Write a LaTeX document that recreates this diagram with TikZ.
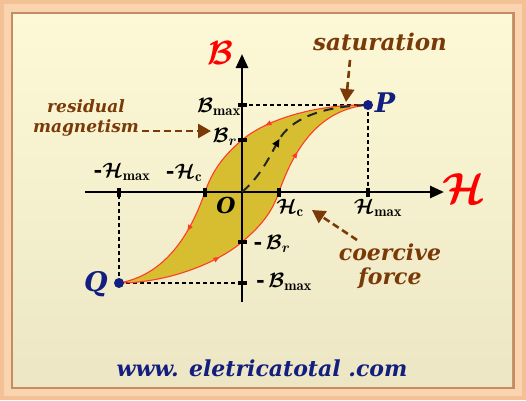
\documentclass[tikz,border=0pt]{standalone}
\usepackage{fontspec}
\usepackage{bm}
\newfontfamily\lab{DejaVu Serif}
\usetikzlibrary{arrows.meta,decorations.markings}
\definecolor{brn}{RGB}{122,58,8}
\definecolor{nav}{RGB}{18,30,128}
\definecolor{loopfill}{RGB}{214,190,48}
\definecolor{loopred}{RGB}{255,60,40}
\definecolor{peach}{RGB}{242,194,150}
\definecolor{peachlt}{RGB}{249,212,174}
\definecolor{paneltop}{RGB}{253,249,214}
\definecolor{panelbot}{RGB}{236,230,196}
\definecolor{bevel}{RGB}{196,140,100}
\newcommand{\fsBig}{\fontsize{24.88}{28}\selectfont}
\newcommand{\fsMath}{\fontsize{21}{24}\selectfont}
\newcommand{\fsSmall}{\lab\bfseries\itshape\fontsize{17}{20}\selectfont}
\newcommand{\fsMid}{\lab\bfseries\itshape\fontsize{22}{24}\selectfont}
\newcommand{\fsSat}{\lab\bfseries\itshape\fontsize{23}{26}\selectfont}
\newcommand{\fsPQ}{\lab\bfseries\itshape\fontsize{27}{30}\selectfont}
\begin{document}
\begin{tikzpicture}[x=1pt,y=-1pt,
  axis/.style={line width=2.6pt,-{Triangle[length=14pt,width=12pt]}},
  guide/.style={line width=1.3pt,dash pattern=on 4pt off 3pt},
  callout/.style={draw=brn,line width=2.6pt,dash pattern=on 7pt off 4pt,-{Triangle[length=13pt,width=14pt]}},
  lbltxt/.style={text=brn,font=\fsSmall,align=center,inner sep=0pt},
  bigtxt/.style={text=brn,font=\fsMid,align=center,inner sep=0pt},
  sattxt/.style={text=brn,font=\fsSat,inner sep=0pt},
  mlab/.style={font=\fsMath,inner sep=0pt},
  redlab/.style={text=red,font=\fsBig,inner sep=0pt},
  olab/.style={font=\fsMid,inner sep=0pt},
  webtxt/.style={text=nav,font=\fsMid,inner sep=0pt},
  pq/.style={text=nav,font=\fsPQ,inner sep=0pt},
  dot/.style={circle,fill=nav,minimum size=10pt,inner sep=0pt},
  tickh/.style={rectangle,fill=black,minimum width=9pt,minimum height=4pt,inner sep=0pt},
  tickv/.style={rectangle,fill=black,minimum width=4pt,minimum height=9pt,inner sep=0pt},
  branch/.style={draw=loopred,line width=1.1pt,postaction={decorate},
    decoration={markings,
      mark=at position 0.32 with {\arrow[loopred]{Triangle[length=6pt,width=5pt]}},
      mark=at position 0.73 with {\arrow[loopred]{Triangle[length=6pt,width=5pt]}}}},
  initc/.style={draw=black!85,line width=2pt,dash pattern=on 10pt off 7pt,postaction={decorate},
    decoration={markings,
      mark=at position 0.4 with {\arrow[black]{Triangle[length=8pt,width=7pt]}}}}
]
\useasboundingbox (0,0) rectangle (526,400);
% frame
\fill[peach] (0,0) rectangle (526,400);
\fill[peachlt] (4,4) rectangle (522,396);
\fill[bevel] (11,12) rectangle (515,389);
\shade[top color=paneltop,bottom color=panelbot] (13,14) rectangle (512,386);
% coordinates
\coordinate (O) at (242,192);
\coordinate (P) at (368,105);
\coordinate (Q) at (119,283);
\coordinate (brp) at (242,140);
\coordinate (brm) at (242,242);
\coordinate (hcm) at (205,192);
\coordinate (hcp) at (279,192);
\coordinate (bmaxp) at (242,105);
\coordinate (bmaxm) at (242,283);
\coordinate (hmaxp) at (368,192);
\coordinate (hmaxm) at (119,192);
\coordinate (xs) at (85,192);
\coordinate (xe) at (444,192);
\coordinate (ys) at (242,302);
\coordinate (ye) at (242,54);
\coordinate (imid) at (280,138);
% loop fill
\fill[loopfill] (P) .. controls (320,104) and (268,118) .. (brp)
  .. controls (222,157) and (212,172) .. (hcm)
  .. controls (190,235) and (165,275) .. (Q)
  .. controls (166,283) and (216,264) .. (brm)
  .. controls (262,225) and (272,212) .. (hcp)
  .. controls (294,149) and (319,109) .. (P) -- cycle;
% guides
\draw[guide] (bmaxp) -- (P);
\draw[guide] (P) -- (hmaxp);
\draw[guide] (Q) -- (bmaxm);
\draw[guide] (Q) -- (hmaxm);
% axes
\draw[axis] (xs) -- (xe);
\draw[axis] (ys) -- (ye);
% branches
\draw[branch] (P) .. controls (320,104) and (268,118) .. (brp)
  .. controls (222,157) and (212,172) .. (hcm)
  .. controls (190,235) and (165,275) .. (Q);
\draw[branch] (Q) .. controls (166,283) and (216,264) .. (brm)
  .. controls (262,225) and (272,212) .. (hcp)
  .. controls (294,149) and (319,109) .. (P);
% initial curve
\draw[initc] (O) .. controls (262,175) and (270,155) .. (imid)
  .. controls (295,115) and (330,106) .. (P);
% ticks
\node[tickh] (t1) at (bmaxp) {};
\node[tickh] (t2) at (brp) {};
\node[tickh] (t3) at (brm) {};
\node[tickh] (t4) at (bmaxm) {};
\node[tickv] (t5) at (hmaxm) {};
\node[tickv] (t6) at (hcm) {};
\node[tickv] (t7) at (hcp) {};
\node[tickv] (t8) at (hmaxp) {};
% dots
\node[dot] (Pd) at (P) {};
\node[dot] (Qd) at (Q) {};
\node[pq] (Pl) at (385,103) {P};
\node[pq] (Ql) at (96,284) {Q};
% axis labels
\node[redlab] (Bax) at (220,53) {\scalebox{1.35}{$\bm{\mathcal{B}}$}};
\node[redlab] (Hax) at (464,189) {\scalebox{1.75}{$\bm{\mathcal{H}}$}};
\node[olab] (Ol) at (226,205) {O};
% math labels
\node[mlab] (lbmax) at (219,107) {$\bm{\mathcal{B}}_{\mathbf{max}}$};
\node[mlab] (lbr) at (225,137) {$\bm{\mathcal{B}}_{\bm{r}}$};
\node[mlab] (lhmaxm) at (122,172) {{\lab\bfseries -}$\bm{\mathcal{H}}_{\mathbf{max}}$};
\node[mlab] (lhcm) at (184,173) {{\lab\bfseries -}$\bm{\mathcal{H}}_{\mathbf{c}}$};
\node[mlab] (lhc) at (290,208) {$\bm{\mathcal{H}}_{\mathbf{c}}$};
\node[mlab] (lhmax) at (378,208) {$\bm{\mathcal{H}}_{\mathbf{max}}$};
\node[mlab] (lbrm) at (272,244) {{\lab\bfseries -}\,$\bm{\mathcal{B}}_{\bm{r}}$};
\node[mlab] (lbmaxm) at (284,282) {{\lab\bfseries -}\,$\bm{\mathcal{B}}_{\mathbf{max}}$};
% callouts
\node[sattxt] (sat) at (380,42) {saturation};
\coordinate (sa1) at (350,60);
\coordinate (sa2) at (346,102);
\draw[callout] (sa1) -- (sa2);
\node[lbltxt] (res) at (86,118) {residual\\magnetism};
\coordinate (ra1) at (142,131);
\coordinate (ra2) at (211,131);
\draw[callout] (ra1) -- (ra2);
\node[bigtxt] (coe) at (390,266) {coercive\\force};
\coordinate (ca1) at (357,240);
\coordinate (ca2) at (312,210);
\draw[callout] (ca1) -- (ca2);
% website
\node[webtxt] (web) at (262,368) {www. eletricatotal .com};
\end{tikzpicture}
\end{document}
